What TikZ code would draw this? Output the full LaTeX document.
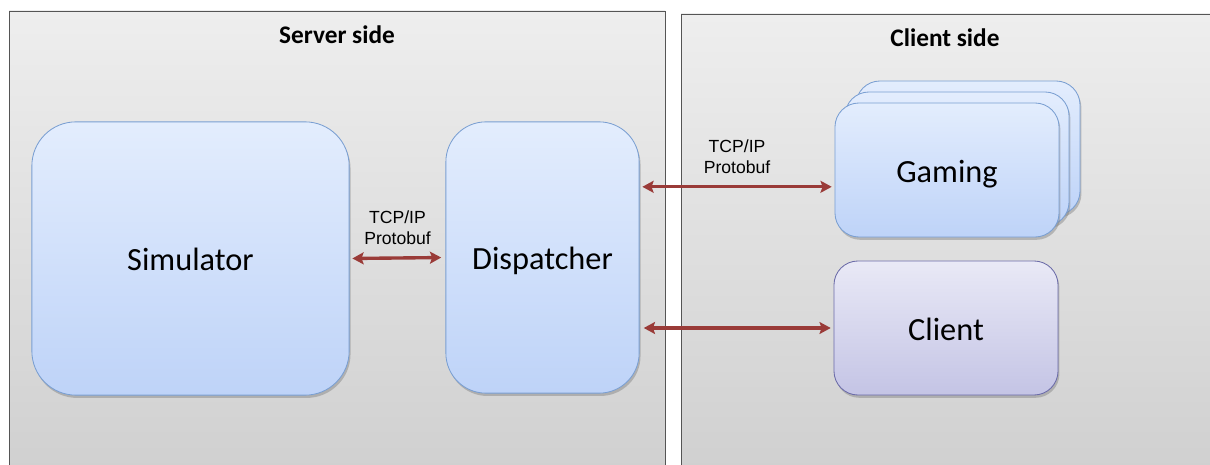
\documentclass[tikz,border=0pt]{standalone}
\usepackage{fontspec}
\setmainfont{Carlito}
\newfontfamily\arialfont{Liberation Sans}
\usetikzlibrary{arrows.meta,shadows,positioning}

\definecolor{panelline}{HTML}{555555}
\definecolor{paneltop}{HTML}{EEEEEE}
\definecolor{panelbottom}{HTML}{D0D0D0}
\definecolor{boxline}{HTML}{7A9FD2}
\definecolor{boxtop}{HTML}{E3EDFD}
\definecolor{boxbottom}{HTML}{BED3F8}
\definecolor{clientline}{HTML}{6B6BA8}
\definecolor{clienttop}{HTML}{E9E9F6}
\definecolor{clientbottom}{HTML}{C4C4E5}
\definecolor{linkred}{HTML}{9A3B38}

\tikzset{
  panel/.style={draw=panelline, line width=0.6pt, top color=paneltop, bottom color=panelbottom},
  paneltitle/.style={font=\fontsize{18}{21}\selectfont\bfseries},
  bluebox/.style={draw=boxline, line width=0.6pt, top color=boxtop, bottom color=boxbottom,
    drop shadow={shadow xshift=1pt, shadow yshift=-2pt, opacity=0.45}, font=\fontsize{23}{27}\selectfont,
    text height=17.5pt, text depth=0pt},
  purplebox/.style={draw=clientline, line width=0.6pt, top color=clienttop, bottom color=clientbottom,
    drop shadow={shadow xshift=1pt, shadow yshift=-2pt, opacity=0.45}, font=\fontsize{23}{27}\selectfont,
    text height=17.5pt, text depth=0pt},
  link/.style={draw=linkred, line width=2.4pt, {Stealth[length=8pt,width=8.5pt,inset=1.5pt]}-{Stealth[length=8pt,width=8.5pt,inset=1.5pt]}},
  proto/.style={font=\arialfont\fontsize{12.5}{15}\selectfont, align=center}
}

\begin{document}
\begin{tikzpicture}[x=0.025cm,y=-0.025cm]
  \useasboundingbox (0,0) rectangle (1210,465);

  % the two sides
  \path[panel] (9,11) rectangle (665,470);
  \path[panel] (681,14) rectangle (1220,470);
  \node[paneltitle] (servertitle) at (337,35) {Server side};
  \node[paneltitle] (clienttitle) at (945,38) {Client side};

  % server side
  \node[bluebox, rounded corners=1.1cm, minimum width=7.93cm, minimum height=6.83cm] (sim) at (190.5,258.5) {Simulator};
  \node[bluebox, rounded corners=1cm, minimum width=4.83cm, minimum height=6.78cm] (disp) at (542.5,257.5) {Dispatcher};

  % client side: stack of gaming windows
  \node[bluebox, rounded corners=0.6cm, minimum width=5.6cm, minimum height=3.35cm] (gamingback) at (968,148) {};
  \node[bluebox, rounded corners=0.6cm, minimum width=5.6cm, minimum height=3.35cm] (gamingmid) at (957,159) {};
  \node[bluebox, rounded corners=0.6cm, minimum width=5.6cm, minimum height=3.35cm] (gaming) at (947,170) {Gaming};
  \node[purplebox, rounded corners=0.6cm, minimum width=5.6cm, minimum height=3.35cm] (client) at (946,328) {Client};

  % connections
  \draw[link, shorten <=2pt, shorten >=3pt] (sim.east) -- node[proto, above=5pt] (protoa) {TCP/IP\\Protobuf} (disp.west);
  \draw[link, shorten <=2pt, shorten >=2pt] ([yshift=-0.42cm]gaming.west -| disp.east) -- node[proto, above=5pt] (protob) {TCP/IP\\Protobuf} ([yshift=-0.42cm]gaming.west);
  \draw[link, shorten <=3pt, shorten >=2pt] (client.west -| disp.east) -- (client.west);
\end{tikzpicture}
\end{document}
